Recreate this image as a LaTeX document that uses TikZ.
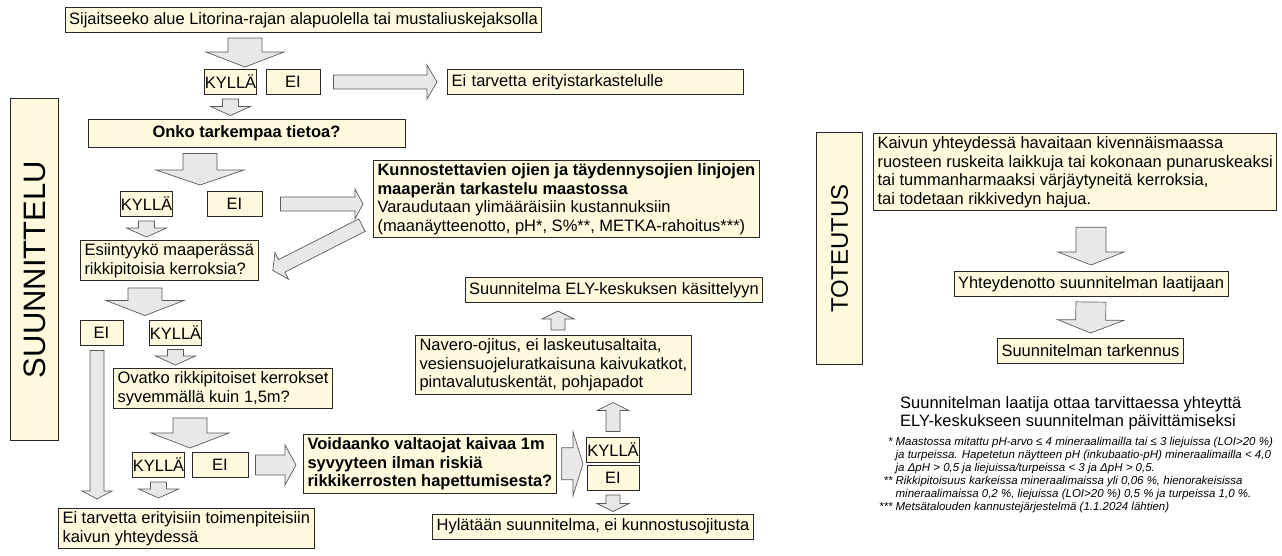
\documentclass[tikz,border=0pt]{standalone}
\usepackage{fontspec}
\setmainfont{Liberation Sans}
\usepackage{graphicx}
\usetikzlibrary{calc}

\definecolor{boxfill}{RGB}{255,250,222}
\definecolor{boxline}{RGB}{40,40,40}
\definecolor{arrowfill}{RGB}{232,232,232}
\definecolor{arrowline}{RGB}{90,90,90}

\newcommand{\fmain}{\fontsize{16.5}{18.6}\selectfont}
\newcommand{\fside}{\fontsize{31}{31}\selectfont}
\newcommand{\fsidesmall}{\fontsize{24}{24}\selectfont}
\newcommand{\ffoot}{\fontsize{11.5}{13}\selectfont}

\tikzset{
  box/.style={draw=boxline, fill=boxfill, line width=1pt, inner xsep=4pt, inner ysep=3pt, align=left, font=\fmain},
  one/.style={box, minimum height=25pt},
  yn/.style={box, inner xsep=0.8pt, minimum height=25pt, align=center},
  blockarrow/.style={draw=arrowline, fill=arrowfill, line width=0.7pt, line join=miter},
  ashaft/.store in=\bshaft, ahead/.store in=\bhead, alen/.store in=\bhlen,
  agapa/.store in=\bgapa, agapb/.store in=\bgapb,
  ashaft=8, ahead=20, alen=9, agapa=4, agapb=3,
  bigarrow/.style={ashaft=17, ahead=39, alen=15},
  smallarrow/.style={ashaft=8, ahead=20, alen=9},
}

% block arrow from #2 to #3
\newcommand{\blockarr}[3][]{%
  \filldraw[blockarrow,#1] let \p1=(#2), \p2=(#3),
    \n1={veclen(\x2-\x1,\y2-\y1)-\bgapb}, \n2={atan2(\y2-\y1,\x2-\x1)}, \n3={\n1-\bhlen} in
    ($(\p1)+(\n2:\bgapa)+(\n2+90:\bshaft)$) -- ($(\p1)+(\n2:\n3)+(\n2+90:\bshaft)$)
    -- ($(\p1)+(\n2:\n3)+(\n2+90:\bhead)$) -- ($(\p1)+(\n2:\n1)$)
    -- ($(\p1)+(\n2:\n3)+(\n2-90:\bhead)$) -- ($(\p1)+(\n2:\n3)+(\n2-90:\bshaft)$)
    -- ($(\p1)+(\n2:\bgapa)+(\n2-90:\bshaft)$) -- cycle;}

\begin{document}
\begin{tikzpicture}[x=1pt,y=1pt]
\useasboundingbox (0,0) rectangle (1282,-555);

% suunnittelu
\node[box, anchor=north west, minimum width=48pt, minimum height=342pt] (plan) at (10,-98) {\rotatebox{90}{\fside SUUNNITTELU}};
\node[one] (litorina) at (303.5,-20) {Sijaitseeko alue Litorina-rajan alapuolella tai mustaliuskejaksolla};
\node[yn] (kylla1) at (230.5,-82) {KYLLÄ};
\node[yn, minimum width=54pt] (ei1) at (293,-82) {EI};
\node[one, anchor=west, text width=288pt] (noneed1) at (447,-82) {Ei tarvetta erityistarkastelulle};
\node[one, minimum width=317pt, minimum height=28pt, font=\fmain\bfseries, align=center] (tieto) at (246.5,-133) {Onko tarkempaa tietoa?};
\node[yn] (kylla2) at (146.5,-204) {KYLLÄ};
\node[yn, minimum width=55pt] (ei2) at (234.5,-204) {EI};
\node[box, anchor=north west] (field) at (373,-160) {\textbf{Kunnostettavien ojien ja täydennysojien linjojen}\\ \textbf{maaperän tarkastelu maastossa}\\ Varaudutaan ylimääräisiin kustannuksiin\\ (maanäytteenotto, pH*, S\%**, METKA-rahoitus***)};
\node[box, anchor=north west] (rikki) at (80,-240) {Esiintyykö maaperässä\\ rikkipitoisia kerroksia?};
\node[yn, minimum width=43pt] (ei3) at (101.5,-332.5) {EI};
\node[yn] (kylla3) at (175.5,-332.5) {KYLLÄ};
\node[box, anchor=north west] (deep) at (113,-368) {Ovatko rikkipitoiset kerrokset\\ syvemmällä kuin 1,5m?};
\node[yn] (kylla4) at (158.5,-465) {KYLLÄ};
\node[yn, minimum width=56pt] (ei4) at (220,-465) {EI};
\node[box, anchor=north west, font=\fmain\bfseries] (dig) at (303,-434) {Voidaanko valtaojat kaivaa 1m\\ syvyyteen ilman riskiä\\ rikkikerrosten hapettumisesta?};
\node[yn, minimum width=52pt] (kylla5) at (613,-449.5) {KYLLÄ};
\node[yn, minimum width=52pt] (ei5) at (613,-478) {EI};
\node[box, anchor=north west] (navero) at (415,-335) {Navero-ojitus, ei laskeutusaltaita,\\ vesiensuojeluratkaisuna kaivukatkot,\\ pintavalutuskentät, pohjapadot};
\node[one] (ely) at (614,-290) {Suunnitelma ELY-keskuksen käsittelyyn};
\node[one] (reject) at (593,-526.5) {Hylätään suunnitelma, ei kunnostusojitusta};
\node[box, anchor=north west] (noneed2) at (58,-508) {Ei tarvetta erityisiin toimenpiteisiin\\ kaivun yhteydessä};

% toteutus
\node[box, anchor=north west, minimum width=46pt, minimum height=232pt] (impl) at (816,-132) {\rotatebox{90}{\fsidesmall TOTEUTUS}};
\node[box, anchor=north west] (obs) at (873,-133) {Kaivun yhteydessä havaitaan kivennäismaassa\\ ruosteen ruskeita laikkuja tai kokonaan punaruskeaksi\\ tai tummanharmaaksi värjäytyneitä kerroksia,\\ tai todetaan rikkivedyn hajua.};
\node[one] (contact) at (1091,-284) {Yhteydenotto suunnitelman laatijaan};
\node[one] (refine) at (1090.5,-351) {Suunnitelman tarkennus};
\node[anchor=north west, font=\fmain, align=left, inner sep=0pt] (note) at (900,-396) {Suunnitelman laatija ottaa tarvittaessa yhteyttä\\ ELY-keskukseen suunnitelman päivittämiseksi};
\node[anchor=north west, font=\ffoot\itshape, inner sep=0pt] (foot) at (879,-436) {%
\begin{tabular}{@{}r@{\hspace{3pt}}l@{}}
{*} & Maastossa mitattu pH-arvo ≤ 4 mineraalimailla tai ≤ 3 liejuissa (LOI>20 \%)\\
{} & ja turpeissa. Hapetetun näytteen pH (inkubaatio-pH) mineraalimailla < 4,0\\
{} & ja ΔpH > 0,5 ja liejuissa/turpeissa < 3 ja ΔpH > 0,5.\\
{**} & Rikkipitoisuus karkeissa mineraalimaissa yli 0,06 \%, hienorakeisissa\\
{} & mineraalimaissa 0,2 \%, liejuissa (LOI>20 \%) 0,5 \% ja turpeissa 1,0 \%.\\
{***} & Metsätalouden kannustejärjestelmä (1.1.2024 lähtien)
\end{tabular}};

% arrows
\coordinate (ax1) at (245,0);
\coordinate (ax2) at (200,0);
\coordinate (ax3) at (145,0);
\coordinate (ax4) at (97,0);
\coordinate (ax5) at (190,0);
\coordinate (ax6) at (558,0);
\blockarr[bigarrow, agapa=5, agapb=2]{ax1 |- litorina.south}{ax1 |- kylla1.north}
\blockarr[ashaft=7, ahead=17, alen=10, agapa=13, agapb=10]{ei1.east}{ei1.east -| noneed1.west}
\blockarr[smallarrow]{kylla1.south}{kylla1 |- tieto.north}
\blockarr[bigarrow, ahead=44, agapa=6, agapb=6]{ax2 |- tieto.south}{ax2 |- kylla2.north}
\blockarr[ashaft=7, ahead=15, alen=8, agapa=18, agapb=10]{ei2.east}{ei2.east -| field.west}
\blockarr[ashaft=7, ahead=15, alen=10, agapa=0, agapb=0]{[xshift=-11pt,yshift=-26pt]field.west}{[xshift=14pt,yshift=-10pt]rikki.east}
\blockarr[smallarrow]{kylla2.south}{kylla2 |- rikki.north}
\blockarr[bigarrow, agapa=7, agapb=4]{ax3 |- rikki.south}{ax3 |- kylla3.north}
\blockarr[smallarrow]{kylla3.south}{kylla3 |- deep.north}
\blockarr[ashaft=7, ahead=15, alen=8, agapa=5, agapb=9]{ax4 |- ei3.south}{ax4 |- noneed2.north}
\blockarr[bigarrow, agapa=9, agapb=4]{ax5 |- deep.south}{ax5 |- kylla4.north}
\blockarr[smallarrow, agapb=10]{kylla4.south}{kylla4 |- noneed2.north}
\blockarr[ashaft=10, ahead=20, alen=11, agapa=7, agapb=7]{ei4.east}{ei4.east -| dig.west}
\blockarr[ashaft=16, ahead=32, alen=10, agapa=5, agapb=3]{dig.east}{dig.east -| kylla5.west}
\blockarr[smallarrow, ashaft=7, ahead=16, alen=8, agapa=5, agapb=8]{kylla5.north}{kylla5 |- navero.south}
\blockarr[smallarrow, ashaft=7, ahead=16, alen=8, agapa=5, agapb=8]{ax6 |- navero.north}{ax6 |- ely.south}
\blockarr[smallarrow, ashaft=7, ahead=16, alen=8, agapa=4, agapb=2]{ei5.south}{ei5 |- reject.north}
\blockarr[ashaft=15, ahead=33, alen=13, agapa=16, agapb=6]{contact.north |- obs.south}{contact.north}
\blockarr[ashaft=15, ahead=33, alen=13, agapa=5, agapb=5]{contact.south}{refine.north}
\end{tikzpicture}
\end{document}
